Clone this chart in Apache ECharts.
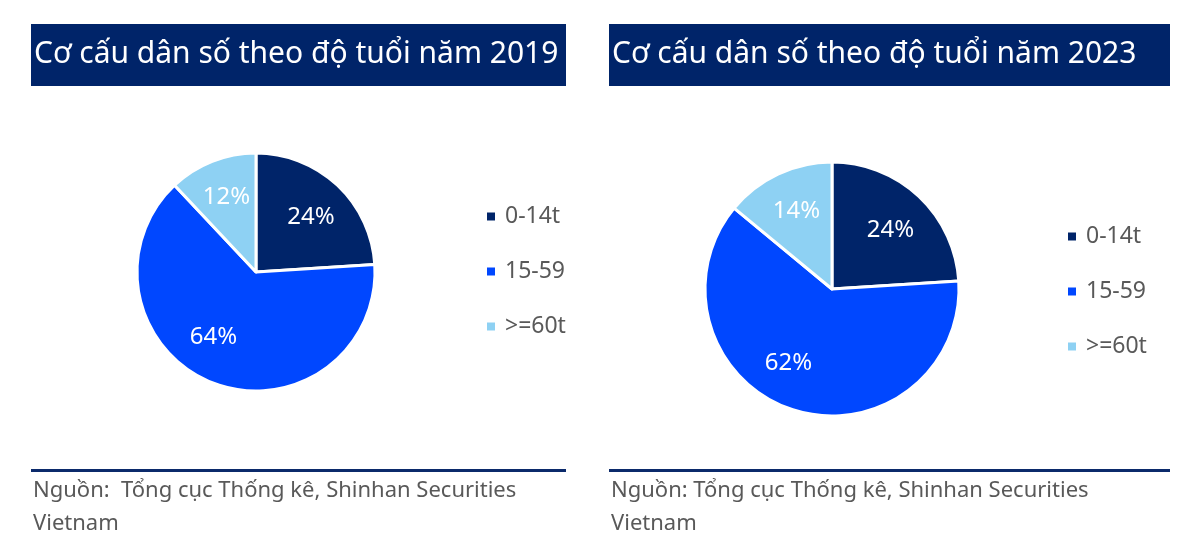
<!DOCTYPE html>
<html><head><meta charset="utf-8">
<script src="https://cdn.jsdelivr.net/npm/echarts@6/dist/echarts.min.js"></script>
<style>html,body{margin:0;padding:0;background:#fff}#c{width:1200px;height:541px}</style>
</head><body><div id="c"></div>
<script>
const categories = ['0-14t', '15-59', '>=60t'];
const values2019 = [24, 64, 12];
const values2023 = [24, 62, 14];
const titles = ['Cơ cấu dân số theo độ tuổi năm 2019', 'Cơ cấu dân số theo độ tuổi năm 2023'];
const sources = ['Nguồn:  Tổng cục Thống kê, Shinhan Securities\nVietnam', 'Nguồn: Tổng cục Thống kê, Shinhan Securities\nVietnam'];
const colors = ['#002469', '#0047FF', '#8ED1F3'];

const FONT = '"Noto Sans", "Open Sans", sans-serif';
const chart = echarts.init(document.getElementById('c'), null, {renderer: 'canvas'});

function mk(vals) { return categories.map((n, i) => ({name: n, value: vals[i]})); }

const panels = [
  {x0: 31, x1: 566, cx: 256, cy: 272, r: 119, lx: 480, ly: 200, vals: values2019, adj: [[0, 4], [-13, -10], [0, 0]]},
  {x0: 609, x1: 1170, cx: 832, cy: 289, r: 127, lx: 1061, ly: 220, vals: values2023, adj: [[0, 4], [-17, -7], [1, 0]]}
];

const graphic = [];
const series = [];
const legend = [];
panels.forEach((p, k) => {
  graphic.push({type: 'rect', shape: {x: p.x0, y: 24, width: p.x1 - p.x0, height: 62}, style: {fill: '#002469'}, silent: true});
  graphic.push({type: 'rect', shape: {x: p.x0, y: 469, width: p.x1 - p.x0, height: 3}, style: {fill: '#0B2A6B'}, silent: true});
  graphic.push({type: 'text', left: p.x0 + 3, top: 39, style: {text: titles[k], fill: '#fff', font: '30px ' + FONT}, silent: true});
  graphic.push({type: 'text', left: p.x0 + 2, top: 474, style: {text: sources[k], fill: '#595959', font: '22px ' + FONT, lineHeight: 33}, silent: true});
  series.push({
    type: 'pie', radius: [0, p.r], center: [p.cx, p.cy], startAngle: 90, clockwise: true,
    data: mk(p.vals), label: {show: false}, labelLine: {show: false},
    itemStyle: {borderColor: '#fff', borderWidth: 3}, emphasis: {disabled: true}, silent: true
  });
  const adj = p.adj;
  series.push({
    type: 'pie', radius: [p.r * 0.3, p.r], center: [p.cx, p.cy], startAngle: 90, clockwise: true,
    data: mk(p.vals), labelLine: {show: false},
    itemStyle: {color: 'rgba(0,0,0,0)', borderWidth: 0},
    label: {show: true, position: 'inside', formatter: '{c}%', color: '#fff', fontSize: 24, fontFamily: FONT},
    labelLayout: function (prm) {
      const a = adj[prm.dataIndex] || [0, 0];
      return {dx: a[0], dy: a[1]};
    },
    emphasis: {disabled: true}, silent: true, legendHoverLink: false
  });
  legend.push({
    data: categories, orient: 'vertical', left: p.lx, top: p.ly, icon: 'rect', itemWidth: 10, itemHeight: 10,
    itemGap: 32, selectedMode: false,
    textStyle: {color: '#595959', fontSize: 23, fontFamily: FONT, lineHeight: 23, padding: [0, 0, 0, 4]}
  });
});

chart.setOption({
  color: colors,
  animation: false,
  legend: legend,
  series: series,
  graphic: graphic
});
</script></body></html>
